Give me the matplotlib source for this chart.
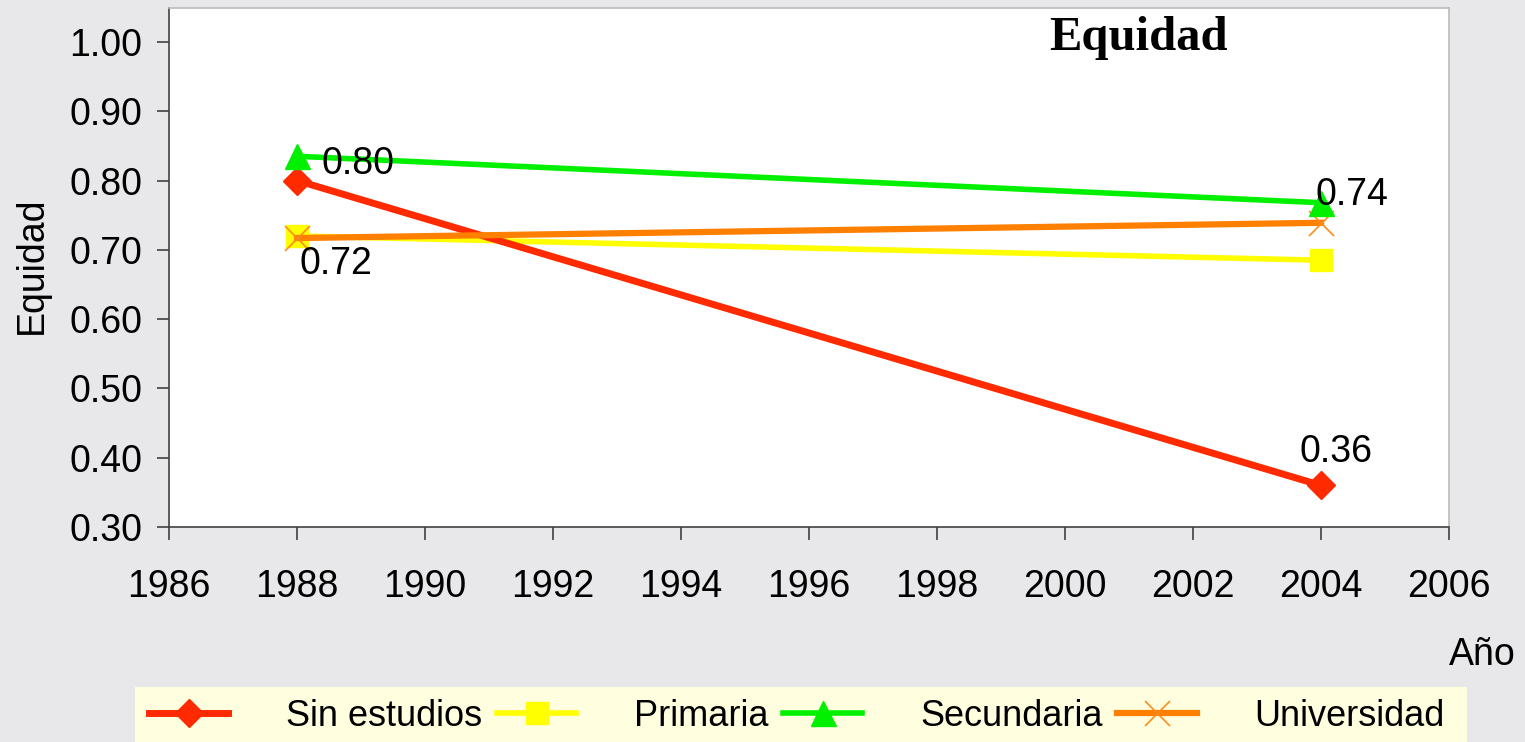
import matplotlib
matplotlib.use("Agg")
import matplotlib.pyplot as plt
from matplotlib.patches import Rectangle

plt.rcParams['font.family'] = ['Liberation Sans', 'DejaVu Sans']

years = [1988, 2004]
sin_estudios = [0.80, 0.36]
primaria = [0.72, 0.685]
secundaria = [0.835, 0.768]
universidad = [0.717, 0.739]
series_names = ["Sin estudios", "Primaria", "Secundaria", "Universidad"]
x_ticks = [1986, 1988, 1990, 1992, 1994, 1996, 1998, 2000, 2002, 2004, 2006]
y_ticks = [0.30, 0.40, 0.50, 0.60, 0.70, 0.80, 0.90, 1.00]

W, H = 1525, 742
fig = plt.figure(figsize=(W / 100, H / 100), dpi=100)
fig.patch.set_facecolor('#E8E8EA')

ax = fig.add_axes([169 / W, 1 - 527 / H, (1449 - 169) / W, (527 - 8) / H])
ax.set_facecolor('white')

l1, = ax.plot(years, sin_estudios, color='#FF2A00', lw=5, marker='D', ms=14,
              mec='#FF2A00', mfc='#FF2A00', zorder=3, label=series_names[0])
l2, = ax.plot(years, primaria, color='#FFFF00', lw=4, marker='s', ms=16,
              mec='#FFFF00', mfc='#FFFF00', zorder=2, label=series_names[1])
l3, = ax.plot(years, secundaria, color='#00F000', lw=4, marker='^', ms=18,
              mec='#00F000', mfc='#00F000', zorder=4, label=series_names[2])
l4, = ax.plot(years, universidad, color='#FF8000', lw=4.5, marker='x', ms=18,
              mec='#FF8C1A', mew=1.2, zorder=3, label=series_names[3])

ax.set_xlim(1986, 2006)
ax.set_ylim(0.30, 1.049)
ax.set_xticks(x_ticks)
ax.set_yticks(y_ticks)
ax.set_yticklabels([f"{v:.2f}" for v in y_ticks])
ax.tick_params(axis='both', direction='out', length=9, width=1.2, color='#404040',
               labelsize=27)
ax.tick_params(axis='x', pad=21)
ax.tick_params(axis='y', pad=10)
for s in ['left', 'bottom']:
    ax.spines[s].set_color('#404040')
    ax.spines[s].set_linewidth(1.2)
for s in ['top', 'right']:
    ax.spines[s].set_color('#BBBBBB')
    ax.spines[s].set_linewidth(1.2)

# data labels
ax.annotate(f"{sin_estudios[0]:.2f}", (years[0], sin_estudios[0]), xytext=(18, 12),
            textcoords='offset points', ha='left', va='center', fontsize=27, zorder=5)
ax.annotate(f"{universidad[0]:.2f}", (years[0], universidad[0]), xytext=(2, -19),
            textcoords='offset points', ha='left', va='center', fontsize=27, zorder=5)
ax.annotate(f"{universidad[1]:.2f}", (years[1], universidad[1]), xytext=(-4, 20),
            textcoords='offset points', ha='left', va='center', fontsize=27, zorder=5)
ax.annotate(f"{sin_estudios[1]:.2f}", (years[1], sin_estudios[1]), xytext=(11, 24),
            textcoords='offset points', ha='center', va='center', fontsize=27, zorder=5)

fig.text(1138 / W, 1 - 38 / H, "Equidad", fontsize=35, fontweight='bold',
         family=['Liberation Serif', 'DejaVu Serif'], ha='center', va='center')
fig.text(32 / W, 1 - 265 / H, "Equidad", fontsize=27, rotation=90,
         ha='center', va='center')
fig.text(1482 / W, 1 - 655 / H, "Año", fontsize=27, ha='center', va='center')

fig.patches.append(Rectangle((135 / W, 0), (1467 - 135) / W, (742 - 687) / H,
                             transform=fig.transFigure, facecolor='#FFFFE0',
                             edgecolor='none', zorder=0))
leg = fig.legend(handles=[l1, l2, l3, l4], loc='center left',
                 bbox_to_anchor=(149 / W, 1 - 716 / H), ncol=4, frameon=False,
                 fontsize=26, handlelength=2.2, handletextpad=1.6,
                 columnspacing=0.4, borderpad=0, borderaxespad=0)

fig.savefig("out.png", dpi=100, facecolor=fig.get_facecolor())
